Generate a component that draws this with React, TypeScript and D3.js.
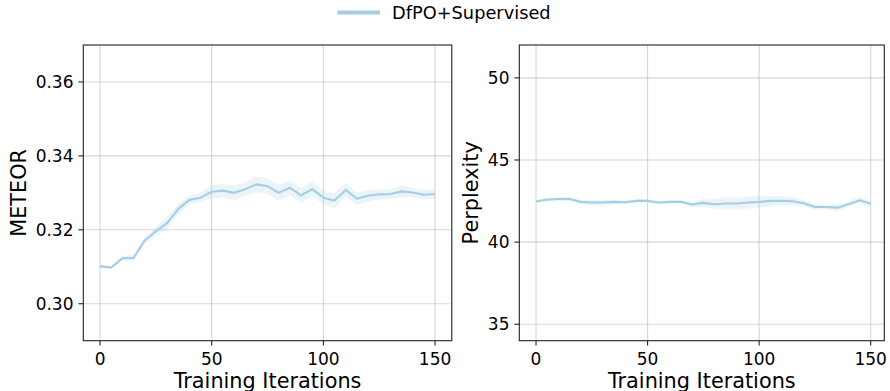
import React from "react";
import * as d3 from "d3";

const iterations = [0,5,10,15,20,25,30,35,40,45,50,55,60,65,70,75,80,85,90,95,100,105,110,115,120,125,130,135,140,145,150];

const meteorMean = [0.3101,0.3098,0.3123,0.3124,0.3171,0.3196,0.3218,0.3256,0.3281,0.3287,0.3303,0.3306,0.3300,0.3310,0.3323,0.3318,0.3300,0.3314,0.3293,0.3310,0.3287,0.3279,0.3308,0.3284,0.3292,0.3296,0.3297,0.3304,0.3301,0.3295,0.3297];
const meteorLower = [0.3096,0.3093,0.3116,0.3117,0.3162,0.3183,0.3202,0.3242,0.3270,0.3276,0.3285,0.3288,0.3280,0.3292,0.3301,0.3298,0.3278,0.3294,0.3273,0.3290,0.3269,0.3259,0.3290,0.3268,0.3276,0.3283,0.3284,0.3288,0.3288,0.3282,0.3284];
const meteorUpper = [0.3106,0.3103,0.3130,0.3131,0.3180,0.3209,0.3234,0.3270,0.3292,0.3298,0.3321,0.3324,0.3320,0.3328,0.3345,0.3338,0.3322,0.3334,0.3313,0.3330,0.3305,0.3299,0.3326,0.3300,0.3308,0.3309,0.3310,0.3320,0.3314,0.3308,0.3310];

const pplMean = [42.47,42.59,42.63,42.63,42.45,42.41,42.41,42.45,42.43,42.51,42.51,42.41,42.45,42.45,42.29,42.39,42.31,42.35,42.35,42.41,42.45,42.51,42.51,42.49,42.37,42.14,42.14,42.10,42.31,42.55,42.33];
const pplLower = [42.39,42.49,42.51,42.51,42.35,42.25,42.25,42.35,42.33,42.41,42.41,42.31,42.35,42.35,42.13,42.15,42.01,41.99,41.99,42.05,42.09,42.19,42.23,42.25,42.17,41.98,41.98,41.90,42.15,42.35,42.13];
const pplUpper = [42.55,42.69,42.75,42.75,42.55,42.57,42.57,42.55,42.53,42.61,42.61,42.51,42.55,42.55,42.45,42.63,42.61,42.71,42.71,42.77,42.81,42.83,42.79,42.73,42.57,42.30,42.30,42.30,42.47,42.75,42.53];

const xTicks = [0, 50, 100, 150];
const meteorTicks = [0.30, 0.32, 0.34, 0.36];
const pplTicks = [35, 40, 45, 50];

const seriesName = "DfPO+Supervised";
const color = "#a6cee3";
const FONT = "DejaVu Sans";

type PanelProps = {
  left: number; right: number; top: number; bottom: number;
  xDomain: [number, number]; yDomain: [number, number];
  mean: number[]; lower: number[]; upper: number[];
  yTicks: number[]; yFmt: (v: number) => string; yLabel: string; yLabelX: number;
};

function Panel(p: PanelProps) {
  const x = d3.scaleLinear().domain(p.xDomain).range([p.left, p.right]);
  const y = d3.scaleLinear().domain(p.yDomain).range([p.bottom, p.top]);
  const idx = iterations.map((_, i) => i);
  const area = d3.area<number>().x(i => x(iterations[i])).y0(i => y(p.lower[i])).y1(i => y(p.upper[i]));
  const line = d3.line<number>().x(i => x(iterations[i])).y(i => y(p.mean[i]));
  const tickLen = 4.9;
  const midY = (p.top + p.bottom) / 2;
  return (
    <g>
      {xTicks.map(t => (
        <line key={"gx" + t} x1={x(t)} x2={x(t)} y1={p.top} y2={p.bottom} stroke="#b0b0b0" strokeOpacity={0.5} strokeWidth={1.1} />
      ))}
      {p.yTicks.map(t => (
        <line key={"gy" + t} x1={p.left} x2={p.right} y1={y(t)} y2={y(t)} stroke="#b0b0b0" strokeOpacity={0.5} strokeWidth={1.1} />
      ))}
      <path d={area(idx) || ""} fill={color} fillOpacity={0.22} stroke="none" />
      <path d={line(idx) || ""} fill="none" stroke={color} strokeWidth={2.1} strokeLinejoin="round" />
      <rect x={p.left} y={p.top} width={p.right - p.left} height={p.bottom - p.top} fill="none" stroke="#222" strokeWidth={1.1} />
      {xTicks.map(t => (
        <g key={"tx" + t}>
          <line x1={x(t)} x2={x(t)} y1={p.bottom} y2={p.bottom + tickLen} stroke="#222" strokeWidth={1.1} />
          <text x={x(t)} y={365} textAnchor="middle" fontFamily={FONT} fontSize={17} fill="#000">{t}</text>
        </g>
      ))}
      {p.yTicks.map(t => (
        <g key={"ty" + t}>
          <line x1={p.left - tickLen} x2={p.left} y1={y(t)} y2={y(t)} stroke="#222" strokeWidth={1.1} />
          <text x={p.left - tickLen - 4.9} y={y(t)} dy="0.36em" textAnchor="end" fontFamily={FONT} fontSize={17} fill="#000">{p.yFmt(t)}</text>
        </g>
      ))}
      <text x={(p.left + p.right) / 2} y={387.5} textAnchor="middle" fontFamily={FONT} fontSize={20.8} fill="#000">Training Iterations</text>
      <text transform={`translate(${p.yLabelX},${midY}) rotate(-90)`} textAnchor="middle" fontFamily={FONT} fontSize={20.8} fill="#000">{p.yLabel}</text>
    </g>
  );
}

export default function App() {
  return (
    <div style={{ position: "absolute", left: 0, top: 0 }}>
      <svg width={890} height={391} style={{ display: "block", background: "#fff" }}>
        <rect x={0} y={0} width={890} height={391} fill="#fff" />
        <line x1={337.3} x2={380} y1={12.5} y2={12.5} stroke={color} strokeWidth={4.2} />
        <text x={392} y={19.3} fontFamily={FONT} fontSize={17.8} fill="#000">{seriesName}</text>
        <Panel left={83.3} right={451.8} top={45} bottom={340.7}
          xDomain={[-7.5, 157.5]} yDomain={[0.29, 0.37]}
          mean={meteorMean} lower={meteorLower} upper={meteorUpper}
          yTicks={meteorTicks} yFmt={d3.format(".2f")} yLabel="METEOR" yLabelX={25.5} />
        <Panel left={519.3} right={884.3} top={45} bottom={340.7}
          xDomain={[-7.5, 156.1]} yDomain={[34, 52]}
          mean={pplMean} lower={pplLower} upper={pplUpper}
          yTicks={pplTicks} yFmt={d3.format("d")} yLabel="Perplexity" yLabelX={477.5} />
      </svg>
    </div>
  );
}
